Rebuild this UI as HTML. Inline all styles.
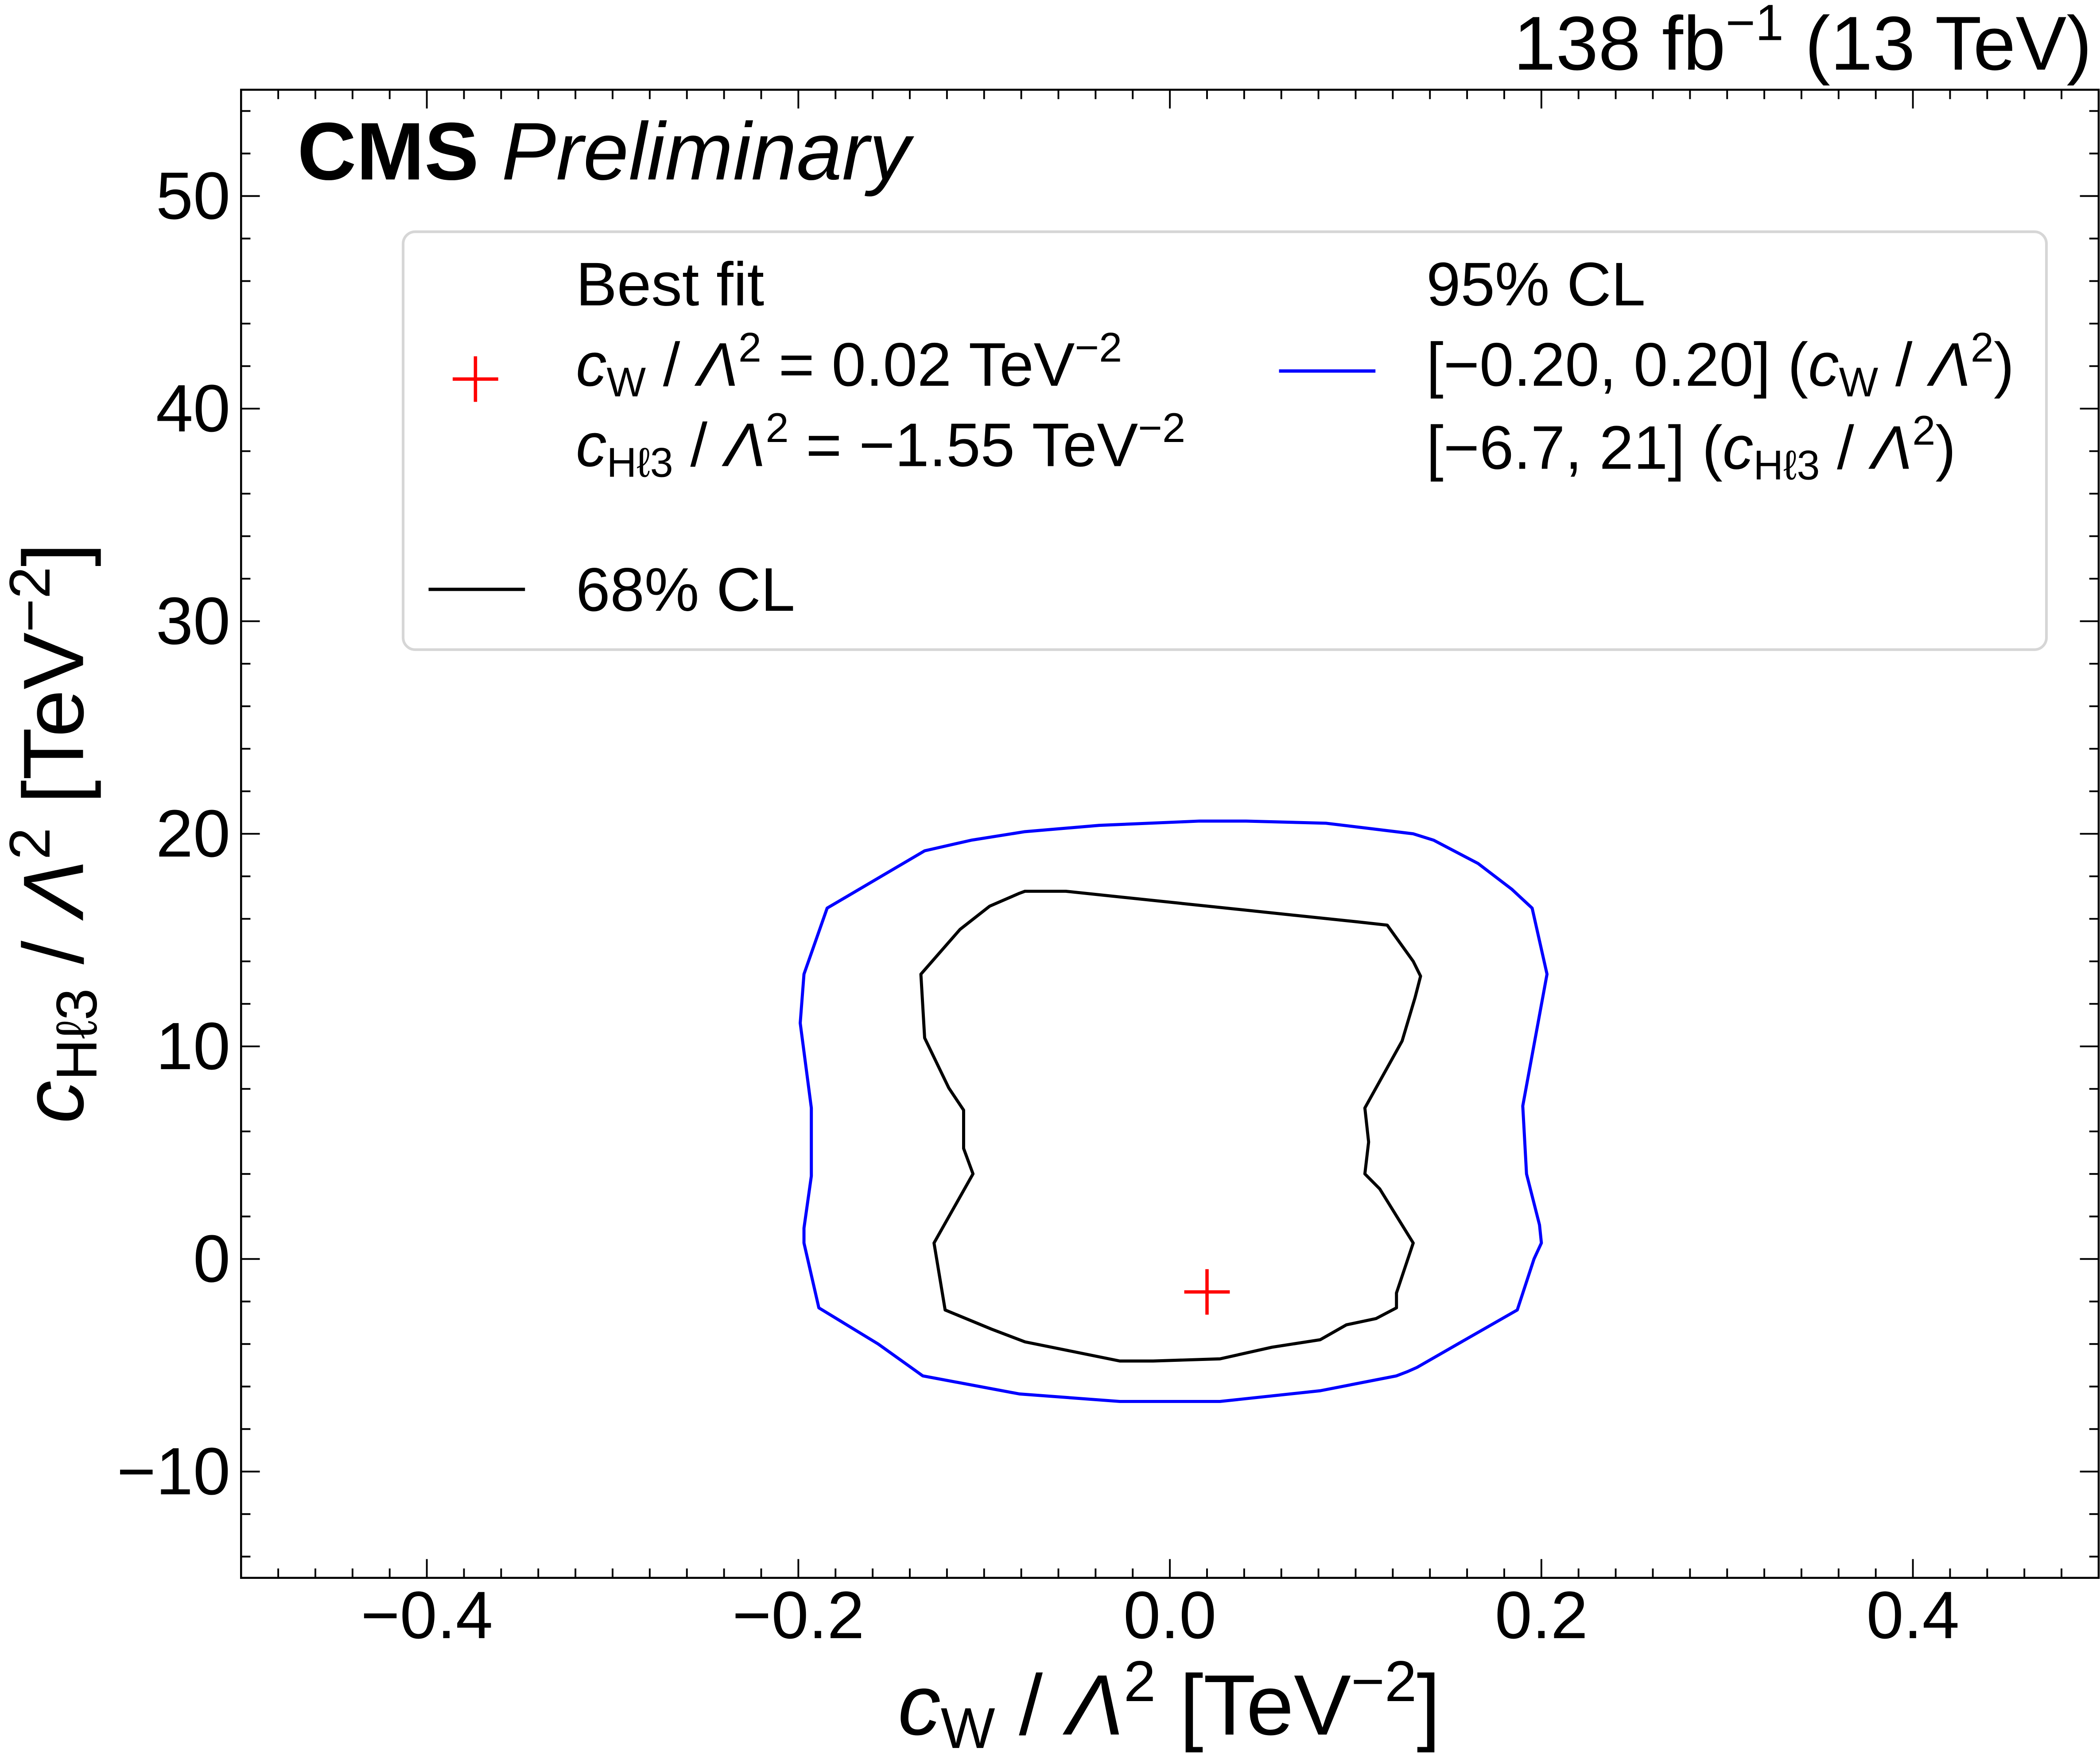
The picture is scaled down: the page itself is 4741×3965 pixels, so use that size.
<!DOCTYPE html>
<html><head><meta charset="utf-8"><style>
html,body{margin:0;padding:0;background:#fff;}
svg{display:block;font-family:"Liberation Sans",sans-serif;}
</style></head><body>
<svg id="chart" width="4741" height="3965" viewBox="0 0 1568 1311" preserveAspectRatio="none" xmlns="http://www.w3.org/2000/svg">
<g id="ticks"></g>
<g id="labels"></g>
<g id="marks"></g>
<rect x="180" y="67" width="1387" height="1111" fill="none" stroke="#000" stroke-width="1.5"/>
<text x="1562" y="52" text-anchor="end" font-size="57">138 fb<tspan dy="-22" font-size="38">−1</tspan><tspan dy="22"> (13 TeV)</tspan></text>
<text x="222" y="134" font-size="61"><tspan font-weight="bold">CMS</tspan> <tspan font-style="italic">Preliminary</tspan></text>
<g>
<rect x="301" y="173" width="1227" height="312" rx="9" fill="#fff" stroke="#d6d6d6" stroke-width="2"/>
<text x="430" y="228" font-size="46">Best fit</text>
<text x="430" y="288" font-size="46"><tspan font-style="italic">c</tspan><tspan font-size="31" dy="8">W</tspan><tspan dy="-8"> / </tspan><tspan font-style="italic">Λ</tspan><tspan font-size="31" dy="-18">2</tspan><tspan dy="18"> = 0.02 TeV</tspan><tspan font-size="31" dy="-18">−2</tspan></text>
<text x="430" y="348" font-size="46"><tspan font-style="italic">c</tspan><tspan font-size="31" dy="8">Hℓ3</tspan><tspan dy="-8"> / </tspan><tspan font-style="italic">Λ</tspan><tspan font-size="31" dy="-18">2</tspan><tspan dy="18"> = −1.55 TeV</tspan><tspan font-size="31" dy="-18">−2</tspan></text>
<g stroke="red" stroke-width="2.5"><line x1="338" y1="283" x2="372" y2="283"/><line x1="355" y1="266" x2="355" y2="300"/></g>
<line x1="320" y1="440" x2="392" y2="440" stroke="#000" stroke-width="2.5"/>
<text x="430" y="456" font-size="46">68% CL</text>
<line x1="955" y1="277" x2="1027" y2="277" stroke="#0000ff" stroke-width="2.5"/>
<text x="1065" y="228" font-size="46">95% CL</text>
<text x="1065" y="288" font-size="46">[−0.20, 0.20] (<tspan font-style="italic">c</tspan><tspan font-size="31" dy="8">W</tspan><tspan dy="-8"> / </tspan><tspan font-style="italic">Λ</tspan><tspan font-size="31" dy="-18">2</tspan><tspan dy="18">)</tspan></text>
<text x="1065" y="350" font-size="46">[−6.7, 21] (<tspan font-style="italic">c</tspan><tspan font-size="31" dy="8">Hℓ3</tspan><tspan dy="-8"> / </tspan><tspan font-style="italic">Λ</tspan><tspan font-size="31" dy="-18">2</tspan><tspan dy="18">)</tspan></text>
</g>
<text x="873" y="1295" text-anchor="middle" font-size="64"><tspan font-style="italic">c</tspan><tspan font-size="43" dy="10">W</tspan><tspan dy="-10"> / </tspan><tspan font-style="italic">Λ</tspan><tspan font-size="43" dy="-25">2</tspan><tspan dy="25"> [TeV</tspan><tspan font-size="43" dy="-25">−2</tspan><tspan dy="25">]</tspan></text>
<text transform="translate(62,622) rotate(-90)" text-anchor="middle" font-size="64"><tspan font-style="italic">c</tspan><tspan font-size="43" dy="10">Hℓ3</tspan><tspan dy="-10"> / </tspan><tspan font-style="italic">Λ</tspan><tspan font-size="43" dy="-25">2</tspan><tspan dy="25"> [TeV</tspan><tspan font-size="43" dy="-25">−2</tspan><tspan dy="25">]</tspan></text>
</svg>
<script>
const xTicks=[-0.4,-0.2,0.0,0.2,0.4];
const xTickLabels=["−0.4","−0.2","0.0","0.2","0.4"];
const yTicks=[-10,0,10,20,30,40,50];
const yTickLabels=["−10","0","10","20","30","40","50"];
const cl95X=[-0.1845,-0.132,-0.107,-0.078,-0.038,0.016,0.041,0.084,0.131,0.142,0.166,0.184,0.195,0.203,0.190,0.192,0.199,0.200,0.196,0.187,0.155,0.133,0.128,0.122,0.081,0.027,-0.027,-0.081,-0.133,-0.157,-0.189,-0.197,-0.197,-0.193,-0.193,-0.199,-0.197];
const cl95Y=[16.5,19.2,19.7,20.1,20.4,20.6,20.6,20.5,20.0,19.7,18.6,17.4,16.5,13.4,7.2,4.0,1.6,0.75,0,-2.4,-4.0,-5.1,-5.3,-5.5,-6.2,-6.7,-6.7,-6.35,-5.5,-4.0,-2.3,0.75,1.45,3.9,7.1,11.1,13.4];
const cl68X=[-0.078,-0.056,0.102,0.117,0.131,0.135,0.132,0.125,0.105,0.107,0.105,0.113,0.131,0.122,0.122,0.111,0.095,0.081,0.055,0.027,-0.009,-0.027,-0.078,-0.096,-0.121,-0.127,-0.106,-0.111,-0.111,-0.119,-0.132,-0.134,-0.113,-0.097,-0.081];
const cl68Y=[17.3,17.3,15.85,15.7,14.0,13.3,12.3,10.25,7.1,5.5,4.0,3.3,0.75,-1.6,-2.3,-2.8,-3.1,-3.8,-4.15,-4.7,-4.8,-4.8,-3.9,-3.3,-2.4,0.75,4.0,5.2,7.0,8.05,10.4,13.4,15.5,16.6,17.2];
const bestFitX=[0.02];
const bestFitY=[-1.55];

const NS="http://www.w3.org/2000/svg";
const L=180,R=1567,T=67,B=1178;
function sx(v){return L+(v+0.5)/1.0*(R-L);}
function sy(v){return B-(v+15)/70*(B-T);}
function mk(tag,attrs,parent){const e=document.createElementNS(NS,tag);for(const k in attrs)e.setAttribute(k,attrs[k]);parent.appendChild(e);return e;}
const tg=document.getElementById('ticks'),lg=document.getElementById('labels'),mg=document.getElementById('marks');
for(let i=-25;i<=25;i++){const v=i*0.02;const x=sx(v);const major=(i%10===0)&&i!==-25;const len=major?14:7;
 const a=mk('line',{x1:x,y1:B,x2:x,y2:B-len,stroke:'#000','stroke-width':1.3},tg);
 
 
 const b=mk('line',{x1:x,y1:T,x2:x,y2:T+len,stroke:'#000','stroke-width':1.3},tg);
 
 }
for(let v=-14;v<=54;v+=2){const y=sy(v);const major=v%10===0;const len=major?14:7;
 const a=mk('line',{x1:L,y1:y,x2:L+len,y2:y,stroke:'#000','stroke-width':1.3},tg);
 
 
 const b=mk('line',{x1:R,y1:y,x2:R-len,y2:y,stroke:'#000','stroke-width':1.3},tg);
 
 }
xTicks.forEach((v,i)=>{const t=mk('text',{x:sx(v),y:1223,'text-anchor':'middle','font-size':50},lg);t.textContent=xTickLabels[i];
 
 });
yTicks.forEach((v,i)=>{const t=mk('text',{x:172,y:sy(v)+17,'text-anchor':'end','font-size':50},lg);t.textContent=yTickLabels[i];
 
 });
function poly(xs,ys,color,name){const pts=xs.map((x,i)=>sx(x).toFixed(1)+','+sy(ys[i]).toFixed(1)).join(' ');
 const p=mk('polygon',{points:pts,fill:'none',stroke:color,'stroke-width':2.3,'stroke-linejoin':'round'},mg);
 
 }
poly(cl95X,cl95Y,'#0000ff','contour-95cl');
poly(cl68X,cl68Y,'#000','contour-68cl');
bestFitX.forEach((v,i)=>{const x=sx(v),y=sy(bestFitY[i]);
 const g=mk('g',{stroke:'red','stroke-width':2.5},mg);
 
 
 mk('line',{x1:x-17,y1:y,x2:x+17,y2:y},g);mk('line',{x1:x,y1:y-17,x2:x,y2:y+17},g);});
</script>
</body></html>
